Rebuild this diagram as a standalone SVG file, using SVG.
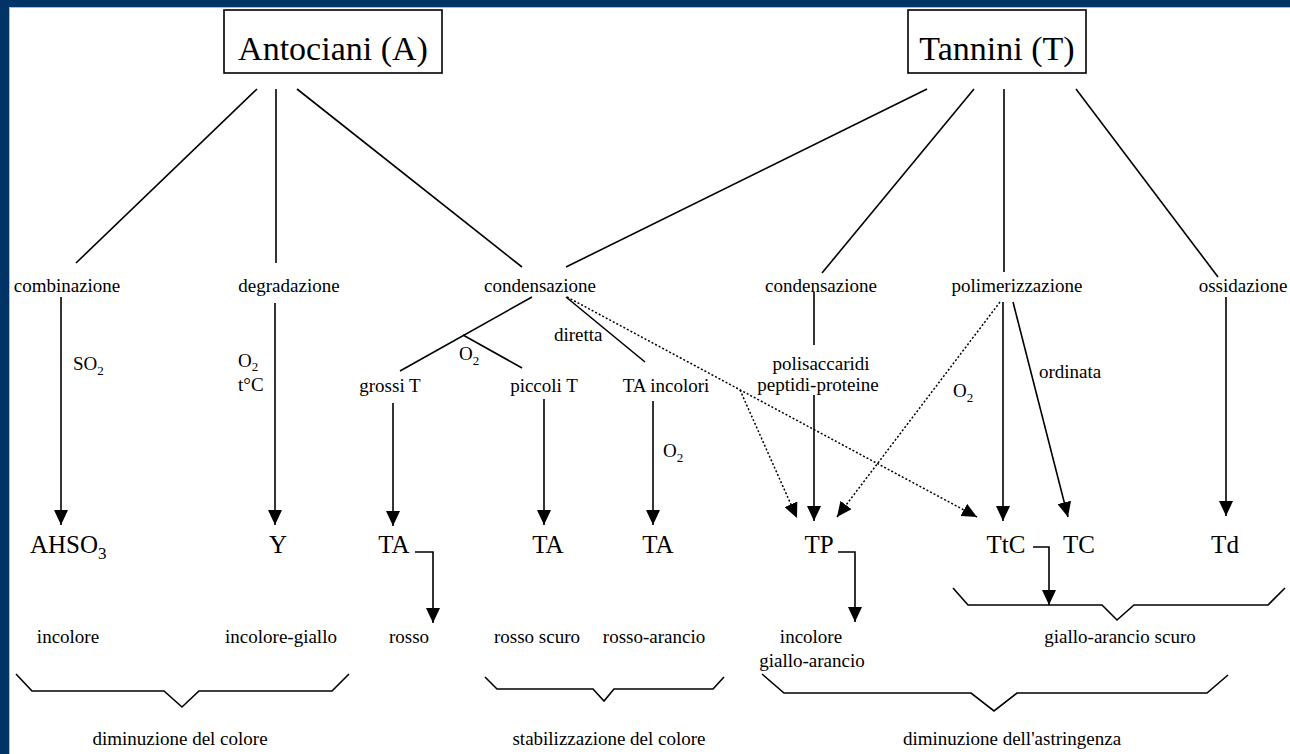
<svg xmlns="http://www.w3.org/2000/svg" width="1290" height="754" viewBox="0 0 1290 754">
<style>
.t{font-family:"Liberation Serif","Times New Roman",serif;fill:#000}
.s{font-size:19px}
.b{font-size:25px}
.h{font-size:34px}
.c{text-anchor:middle}
.ln{stroke:#000;stroke-width:1.6;fill:none}
.dt{stroke:#000;stroke-width:1.5;fill:none;stroke-dasharray:2 2}
.box{fill:#fff;stroke:#000;stroke-width:1.6}
</style>
<defs>
<marker id="ah" markerUnits="userSpaceOnUse" markerWidth="16" markerHeight="14" refX="15" refY="7" orient="auto">
<path d="M0,0 L15,7 L0,14 z" fill="#000"/>
</marker>
</defs>
<rect x="0" y="0" width="1290" height="754" fill="#fff"/>
<rect x="0" y="0" width="1290" height="7" fill="#003366"/>
<rect x="0" y="0" width="9" height="754" fill="#003366"/>
<line x1="9" y1="7.5" x2="1290" y2="7.5" stroke="#9dbfe0" stroke-width="1"/>
<line x1="9.5" y1="8" x2="9.5" y2="754" stroke="#9dbfe0" stroke-width="1"/>

<g id="antociani"><rect class="box" x="224" y="10" width="218" height="63"/><text class="t h c" x="333" y="60">Antociani (A)</text></g>
<g id="tannini"><rect class="box" x="908" y="10" width="178" height="63"/><text class="t h c" x="997" y="60">Tannini (T)</text></g>

<g id="combinazione"><text class="t s c" x="67" y="292">combinazione</text></g>
<g id="degradazione"><text class="t s c" x="289" y="292">degradazione</text></g>
<g id="condensazione-a"><text class="t s c" x="540" y="292">condensazione</text></g>
<g id="condensazione-t"><text class="t s c" x="821" y="292">condensazione</text></g>
<g id="polimerizzazione"><text class="t s c" x="1017" y="292">polimerizzazione</text></g>
<g id="ossidazione"><text class="t s c" x="1243" y="292">ossidazione</text></g>

<g id="grossiT"><text class="t s c" x="390" y="392">grossi T</text></g>
<g id="piccoliT"><text class="t s c" x="544" y="392">piccoli T</text></g>
<g id="TAincolori"><text class="t s c" x="666" y="392">TA incolori</text></g>
<g id="polisaccaridi"><text class="t s c" x="821" y="370">polisaccaridi</text><text class="t s c" x="818" y="391">peptidi-proteine</text></g>

<g id="AHSO3"><text class="t b" x="30" y="553">AHSO<tspan font-size="17" dy="6">3</tspan></text></g>
<g id="Y"><text class="t b c" x="278" y="553">Y</text></g>
<g id="TA1"><text class="t b c" x="394" y="553">TA</text></g>
<g id="TA2"><text class="t b c" x="548" y="553">TA</text></g>
<g id="TA3"><text class="t b c" x="658" y="553">TA</text></g>
<g id="TP"><text class="t b c" x="819" y="553">TP</text></g>
<g id="TtC"><text class="t b c" x="1006" y="553">TtC</text></g>
<g id="TC"><text class="t b c" x="1079" y="553">TC</text></g>
<g id="Td"><text class="t b c" x="1225" y="553">Td</text></g>

<g id="colori">
<text class="t s c" x="68" y="643">incolore</text>
<text class="t s c" x="281" y="643">incolore-giallo</text>
<text class="t s" x="389" y="643">rosso</text>
<text class="t s c" x="537" y="643">rosso scuro</text>
<text class="t s c" x="654" y="643">rosso-arancio</text>
<text class="t s c" x="811" y="643">incolore</text>
<text class="t s c" x="812" y="667">giallo-arancio</text>
<text class="t s c" x="1120" y="643">giallo-arancio scuro</text>
</g>
<g id="effetti">
<text class="t s c" x="180" y="745">diminuzione del colore</text>
<text class="t s c" x="609" y="745">stabilizzazione del colore</text>
<text class="t s c" x="1012" y="745">diminuzione dell'astringenza</text>
</g>

<g id="labels">
<text class="t s" x="73" y="370">SO<tspan font-size="13" dy="5">2</tspan></text>
<text class="t s" x="238" y="367">O<tspan font-size="13" dy="4">2</tspan></text>
<text class="t s" x="238" y="391">t°C</text>
<text class="t s" x="459" y="360">O<tspan font-size="13" dy="5">2</tspan></text>
<text class="t s" x="554" y="341">diretta</text>
<text class="t s" x="663" y="457">O<tspan font-size="13" dy="5">2</tspan></text>
<text class="t s" x="953" y="397">O<tspan font-size="13" dy="5">2</tspan></text>
<text class="t s" x="1039" y="378">ordinata</text>
</g>

<g id="connectors">
<line class="ln" x1="257" y1="89" x2="76" y2="263"/>
<line class="ln" x1="276" y1="89" x2="276" y2="263"/>
<line class="ln" x1="297" y1="89" x2="522" y2="267"/>
<line class="ln" x1="927" y1="89" x2="566" y2="267"/>
<line class="ln" x1="974" y1="89" x2="822" y2="273"/>
<line class="ln" x1="1004" y1="89" x2="1004" y2="272"/>
<line class="ln" x1="1076" y1="89" x2="1218" y2="277"/>

<line class="ln" x1="61" y1="297" x2="61" y2="525" marker-end="url(#ah)"/>
<line class="ln" x1="275" y1="303" x2="275" y2="525" marker-end="url(#ah)"/>
<line class="ln" x1="532" y1="297" x2="400" y2="371"/>
<line class="ln" x1="463" y1="335" x2="522" y2="368"/>
<line class="ln" x1="566" y1="297" x2="645" y2="362"/>
<line class="dt" x1="567" y1="297" x2="977" y2="517" marker-end="url(#ah)"/>
<line class="dt" x1="740" y1="390" x2="797" y2="518" marker-end="url(#ah)"/>
<line class="ln" x1="393" y1="403" x2="393" y2="526" marker-end="url(#ah)"/>
<line class="ln" x1="544" y1="399" x2="544" y2="525" marker-end="url(#ah)"/>
<line class="ln" x1="653" y1="401" x2="653" y2="525" marker-end="url(#ah)"/>
<polyline class="ln" points="415,552 433,552 433,623" marker-end="url(#ah)"/>

<line class="ln" x1="814" y1="292" x2="814" y2="345"/>
<line class="ln" x1="814" y1="395" x2="814" y2="521" marker-end="url(#ah)"/>
<line class="dt" x1="1000" y1="302" x2="837" y2="517" marker-end="url(#ah)"/>
<line class="ln" x1="1003" y1="302" x2="1003" y2="521" marker-end="url(#ah)"/>
<line class="ln" x1="1013" y1="302" x2="1068" y2="517" marker-end="url(#ah)"/>
<line class="ln" x1="1226" y1="297" x2="1226" y2="516" marker-end="url(#ah)"/>
<polyline class="ln" points="838,552 855,552 855,622" marker-end="url(#ah)"/>
<polyline class="ln" points="1033,547 1049,547 1049,605" marker-end="url(#ah)"/>

<polyline class="ln" points="953,588 968,605 1102,605 1117,620 1134,605 1268,605 1285,588"/>
<polyline class="ln" points="16,674 32,691 164,691 182,707 199,691 332,691 349,674"/>
<polyline class="ln" points="485,677 497,689 593,689 604,701 614,689 713,689 724,677"/>
<polyline class="ln" points="762,674 784,693 971,693 994,711 1017,693 1207,693 1228,675"/>
</g>
</svg>
